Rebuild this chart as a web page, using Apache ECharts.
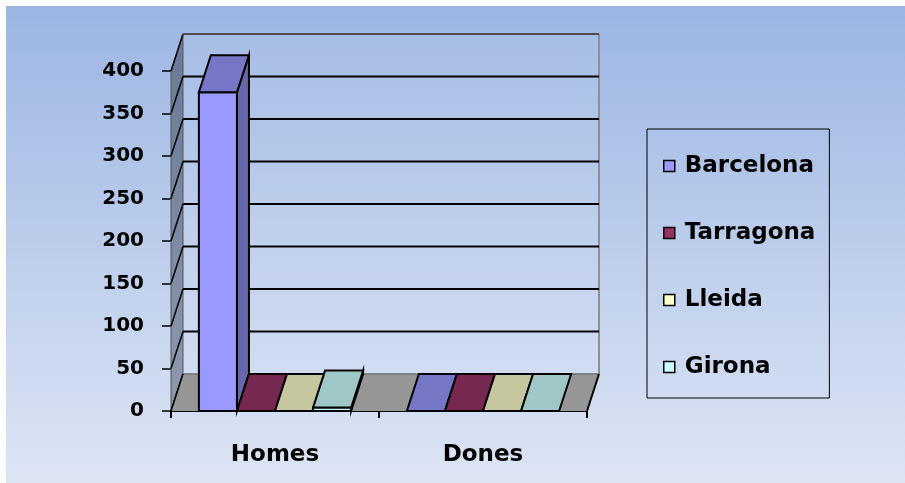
<!DOCTYPE html>
<html>
<head>
<meta charset="utf-8">
<script src="https://cdn.jsdelivr.net/npm/echarts@6/dist/echarts.min.js"></script>
<style>
  html, body { margin: 0; padding: 0; background: #ffffff; }
  #chart { width: 905px; height: 483px; }
</style>
</head>
<body>
<div id="chart"></div>
<script>
// Categories, series and axis ticks
const categories = ['Homes', 'Dones'];
const cities = ['Barcelona', 'Tarragona', 'Lleida', 'Girona'];
const barcelona = [375, 0];
const tarragona = [0, 0];
const lleida = [0, 0];
const girona = [4, 0];
const yTicks = [0, 50, 100, 150, 200, 250, 300, 350, 400];

const cityValues = [barcelona, tarragona, lleida, girona];
const cityColors = ['#9999FF', '#993366', '#FFFFCC', '#CCFFFF'];

// Oblique projection used for the pseudo-3D depth
const DEPTH_X = 12;
const DEPTH_Y = -37;
const FONT = 'DejaVu Sans';

function shade(hex, k) {
  const n = parseInt(hex.slice(1), 16);
  const r = Math.round(((n >> 16) & 255) * k);
  const g = Math.round(((n >> 8) & 255) * k);
  const b = Math.round((n & 255) * k);
  return 'rgb(' + r + ',' + g + ',' + b + ')';
}

// One extruded box per (category, city)
function makeBarRenderer(slot, color) {
  const topColor = shade(color, 0.78);
  const sideColor = shade(color, 0.67);
  return function (params, api) {
    const cat = api.value(0);
    const val = api.value(1);
    const band = api.size([1, 0])[0];
    const barW = band * 0.183;
    const base = api.coord([cat, 0]);
    const top = api.coord([cat, val]);
    const x0 = base[0] - 2 * barW + slot * barW;
    const x1 = x0 + barW;
    const yB = base[1];
    const yT = top[1];
    const stroke = { stroke: '#000', lineWidth: 2, lineJoin: 'miter' };
    const children = [];
    if (yB - yT > 0.5) {
      children.push({
        type: 'polygon',
        shape: { points: [[x1, yB], [x1 + DEPTH_X, yB + DEPTH_Y], [x1 + DEPTH_X, yT + DEPTH_Y], [x1, yT]] },
        style: Object.assign({ fill: sideColor }, stroke)
      });
      children.push({
        type: 'polygon',
        shape: { points: [[x0, yB], [x1, yB], [x1, yT], [x0, yT]] },
        style: Object.assign({ fill: color }, stroke)
      });
    }
    children.push({
      type: 'polygon',
      shape: { points: [[x0, yT], [x1, yT], [x1 + DEPTH_X, yT + DEPTH_Y], [x0 + DEPTH_X, yT + DEPTH_Y]] },
      style: Object.assign({ fill: topColor }, stroke)
    });
    return { type: 'group', children: children };
  };
}

// Back wall, side wall and floor panels
function renderWalls(params, api) {
  const cs = params.coordSys;
  const L = cs.x, R = cs.x + cs.width, T = cs.y, B = cs.y + cs.height;
  return {
    type: 'group',
    children: [
      {
        type: 'polygon',
        shape: { points: [[L + DEPTH_X, T + DEPTH_Y], [R + DEPTH_X, T + DEPTH_Y], [R + DEPTH_X, B + DEPTH_Y], [L + DEPTH_X, B + DEPTH_Y]] },
        style: { fill: 'rgba(255,255,255,0.08)', stroke: null }
      },
      {
        type: 'line',
        shape: { x1: R + DEPTH_X, y1: T + DEPTH_Y, x2: R + DEPTH_X, y2: B + DEPTH_Y },
        style: { stroke: '#8f8f8f', lineWidth: 2 }
      },
      {
        type: 'polygon',
        shape: { points: [[L, B], [L, T], [L + DEPTH_X, T + DEPTH_Y], [L + DEPTH_X, B + DEPTH_Y]] },
        style: {
          fill: new echarts.graphic.LinearGradient(0, 0, 0, 1, [
            { offset: 0, color: '#687895' },
            { offset: 1, color: '#8e99ae' }
          ]),
          stroke: '#555', lineWidth: 1
        }
      }
    ]
  };
}

// Gridlines along the back wall and the matching diagonals on the side wall
function renderGrid(params, api) {
  const cs = params.coordSys;
  const L = cs.x, R = cs.x + cs.width;
  const y = api.coord([0, api.value(1)])[1];
  const v = api.value(1);
  const children = [{
    type: 'line',
    shape: { x1: L, y1: y, x2: L + DEPTH_X, y2: y + DEPTH_Y },
    style: { stroke: '#000', lineWidth: 1.5 }
  }];
  if (v > 0) {
    children.push({
      type: 'line',
      shape: { x1: L + DEPTH_X, y1: y + DEPTH_Y, x2: R + DEPTH_X, y2: y + DEPTH_Y },
      style: { stroke: v === yTicks[yTicks.length - 1] ? '#4d4d4d' : '#000', lineWidth: 2 }
    });
  }
  return { type: 'group', children: children };
}

function renderFloor(params, api) {
  const cs = params.coordSys;
  const L = cs.x, R = cs.x + cs.width, B = cs.y + cs.height;
  return {
    type: 'group',
    children: [
      {
        type: 'polygon',
        shape: { points: [[L, B], [R, B], [R + DEPTH_X, B + DEPTH_Y], [L + DEPTH_X, B + DEPTH_Y]] },
        style: { fill: '#969696', stroke: null }
      },
      {
        type: 'line',
        shape: { x1: L + DEPTH_X, y1: B + DEPTH_Y, x2: R + DEPTH_X, y2: B + DEPTH_Y },
        style: { stroke: '#6e6e6e', lineWidth: 1.5 }
      },
      {
        type: 'polyline',
        shape: { points: [[L, B], [L + DEPTH_X, B + DEPTH_Y]] },
        style: { stroke: '#000', lineWidth: 1.5 }
      },
      {
        type: 'polyline',
        shape: { points: [[R, B], [R + DEPTH_X, B + DEPTH_Y]] },
        style: { stroke: '#000', lineWidth: 2 }
      }
    ]
  };
}

const barSeries = cities.map(function (name, i) {
  return {
    type: 'custom',
    name: name,
    z: 10 + i,
    itemStyle: { color: cityColors[i] },
    renderItem: makeBarRenderer(i, cityColors[i]),
    data: categories.map(function (c, j) { return [j, cityValues[i][j]]; })
  };
});

const chart = echarts.init(document.getElementById('chart'), null, { renderer: 'canvas' });

chart.setOption({
  animation: false,
  graphic: [{
    type: 'rect',
    left: 6, top: 6, z: -100, silent: true,
    shape: { width: 899, height: 477 },
    style: {
      fill: new echarts.graphic.LinearGradient(0, 0, 0, 1, [
        { offset: 0, color: '#9bb5e3' },
        { offset: 1, color: '#dde5f4' }
      ])
    }
  }],
  grid: { left: 171, right: 318, top: 71, bottom: 72 },
  legend: {
    orient: 'vertical',
    left: 647, top: 129,
    padding: [25, 14, 19, 16],
    itemGap: 43,
    itemWidth: 11, itemHeight: 11,
    icon: 'rect',
    borderColor: '#000', borderWidth: 1,
    itemStyle: { borderColor: '#000', borderWidth: 1.5 },
    textStyle: {
      fontFamily: FONT, fontWeight: 'bold', fontSize: 23, color: '#000',
      lineHeight: 24, padding: [0, 0, 0, 5]
    },
    data: cities
  },
  xAxis: {
    type: 'category',
    data: categories,
    boundaryGap: true,
    axisLine: { show: true, lineStyle: { color: '#000', width: 2 } },
    axisTick: { show: true, length: 7, lineStyle: { color: '#000', width: 2 } },
    axisLabel: { margin: 33, fontFamily: FONT, fontWeight: 'bold', fontSize: 23, color: '#000' },
    splitLine: { show: false }
  },
  yAxis: {
    type: 'value',
    min: 0, max: 400, interval: 50,
    axisLine: { show: true, lineStyle: { color: '#333', width: 1 } },
    axisTick: { show: true, length: 9, lineStyle: { color: '#000', width: 1.5 } },
    axisLabel: { margin: 27, fontFamily: FONT, fontWeight: 'bold', fontSize: 20, color: '#000' },
    splitLine: { show: false }
  },
  series: [
    { type: 'custom', name: 'walls', z: 3, silent: true, renderItem: renderWalls, data: [[0, 0]] },
    { type: 'custom', name: 'grid', z: 4, silent: true, renderItem: renderGrid,
      data: yTicks.map(function (v) { return [0, v]; }) },
    { type: 'custom', name: 'floor', z: 5, silent: true, renderItem: renderFloor, data: [[0, 0]] }
  ].concat(barSeries)
});
</script>
</body>
</html>
